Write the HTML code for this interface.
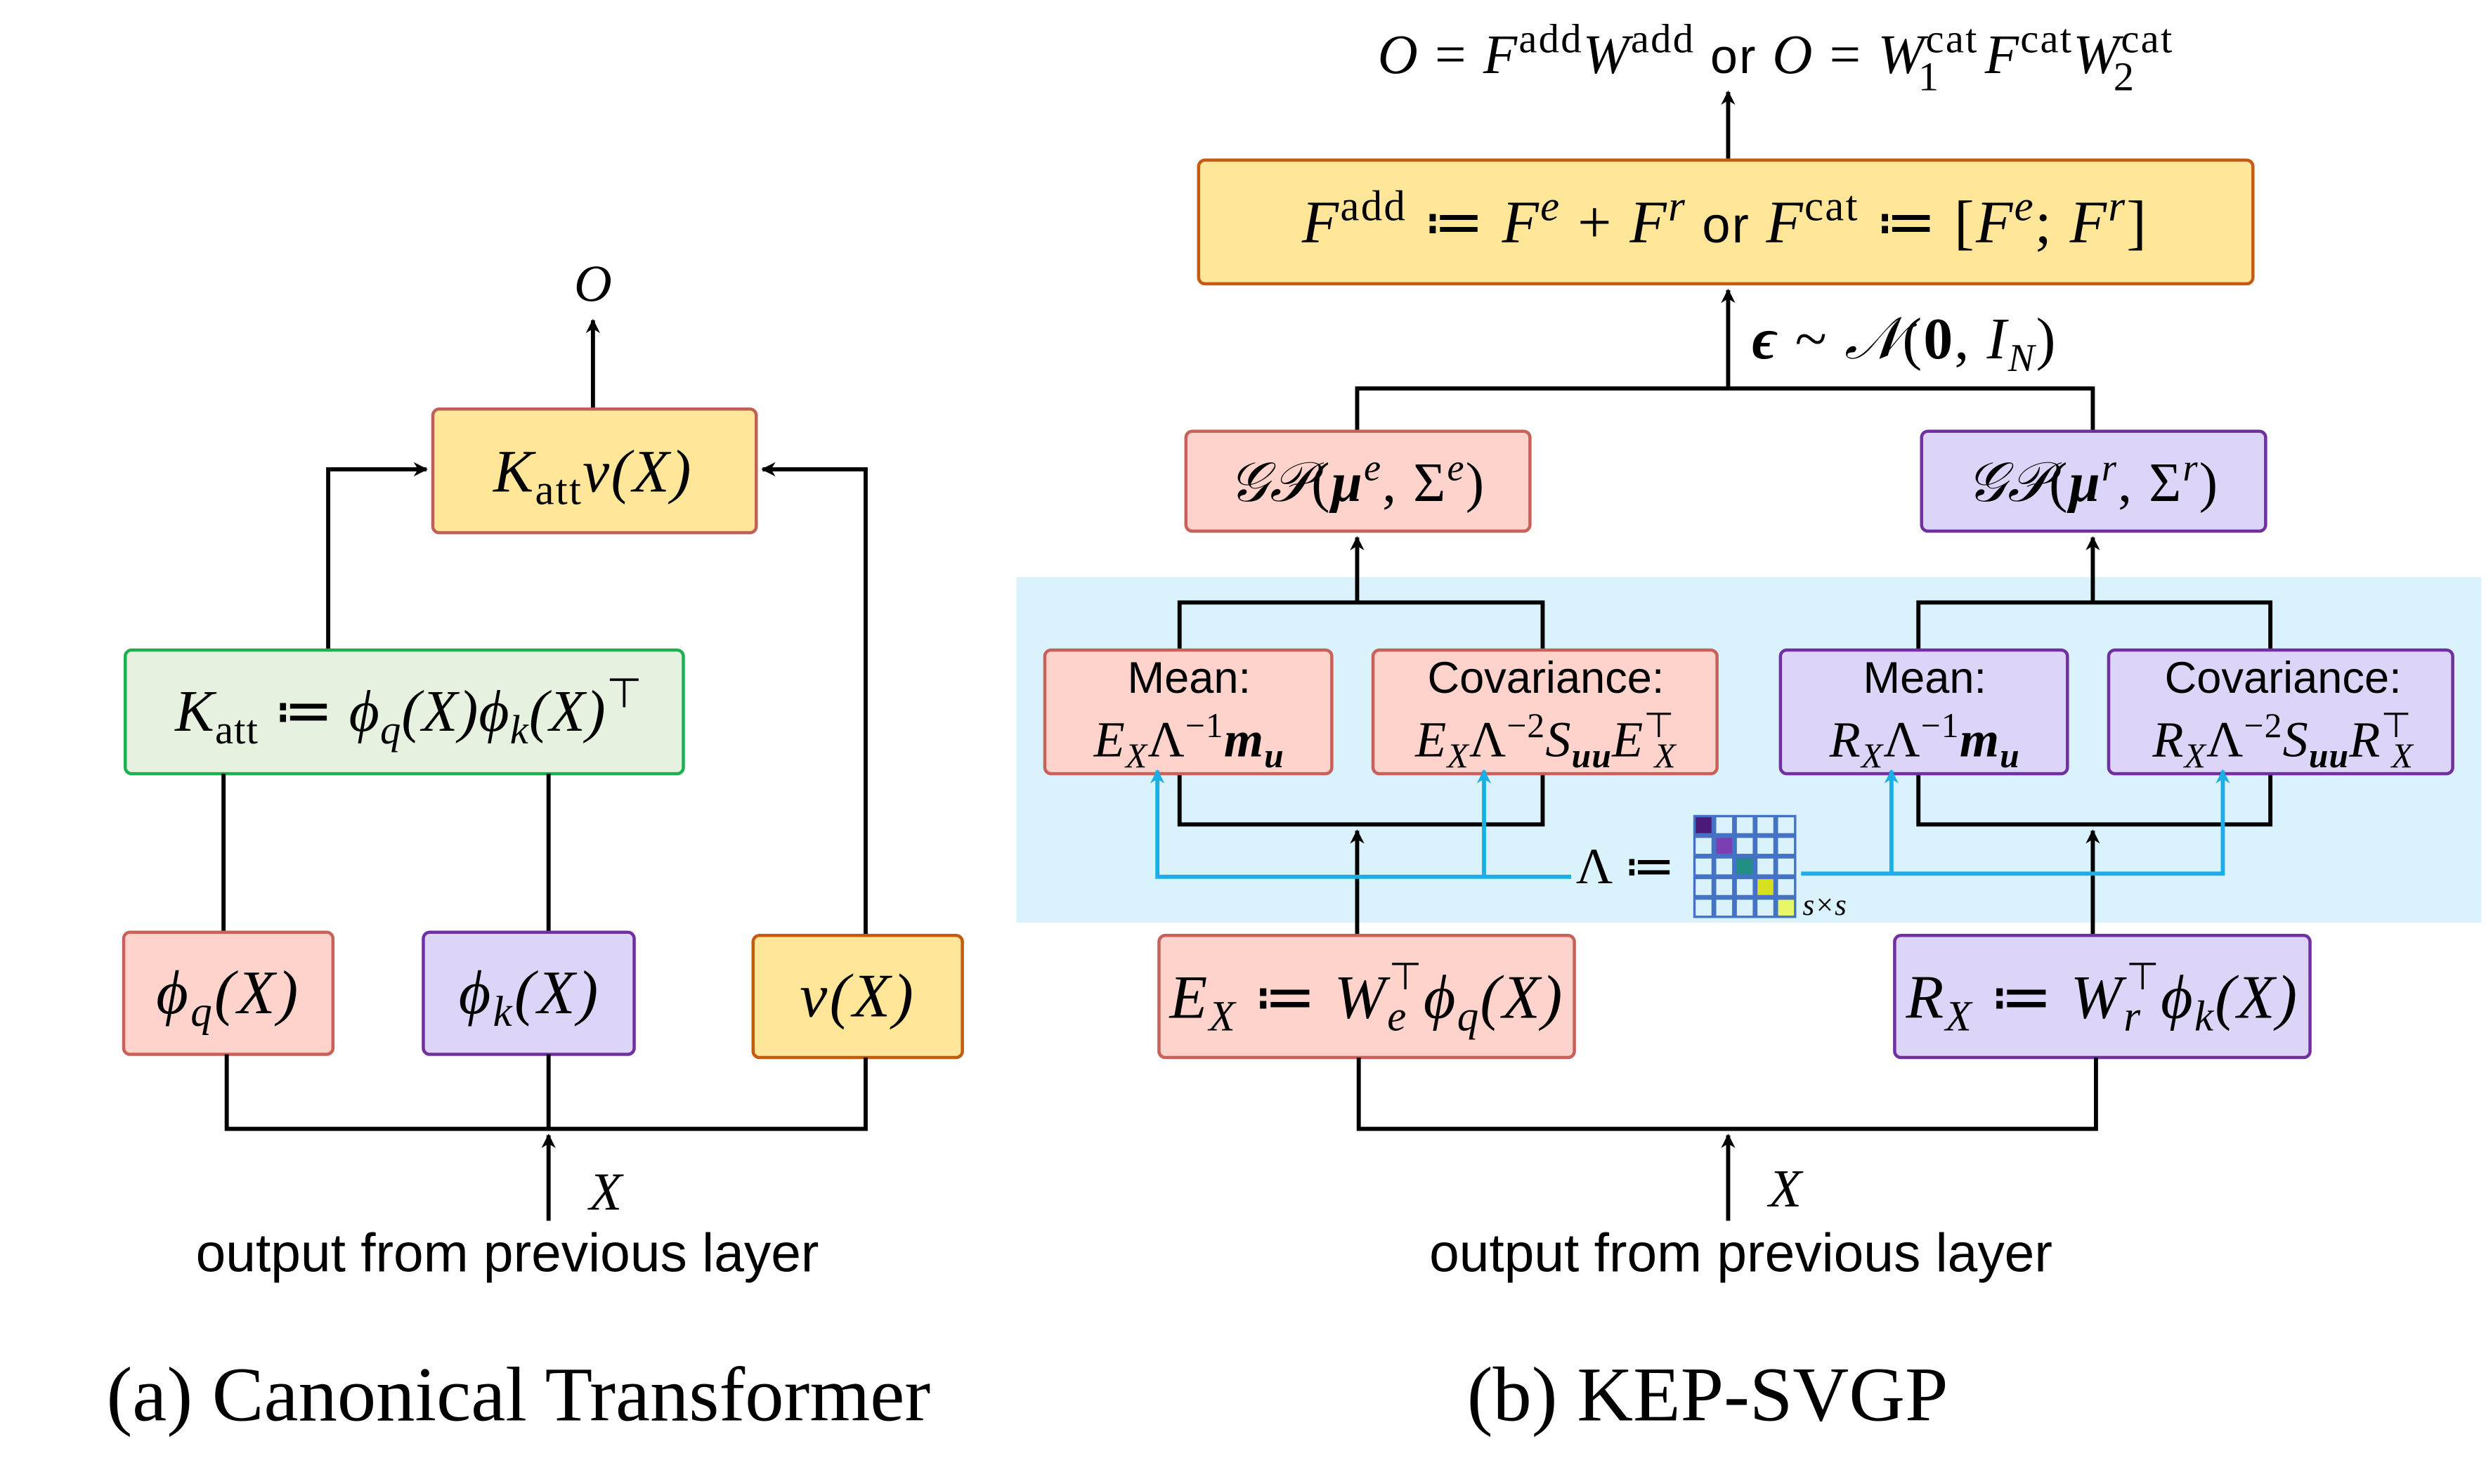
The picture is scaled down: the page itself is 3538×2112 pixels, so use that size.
<!DOCTYPE html>
<html><head><meta charset="utf-8"><style>
html,body{margin:0;padding:0;background:#fff}
svg{display:block}
.m{font-family:"Liberation Serif",serif;font-style:italic;fill:#000}
.r{font-style:normal}
.s{font-family:"Liberation Sans",sans-serif;fill:#000}
.ln{stroke:#000;stroke-width:2.6;fill:none}
.bl{stroke:#1AAFE6;stroke-width:2.6;fill:none}
</style></head><body>
<svg width="3538" height="2112" viewBox="0 0 1568 936" preserveAspectRatio="none" xmlns="http://www.w3.org/2000/svg">
<defs>
<marker id="ah" viewBox="0 0 10 10" refX="9" refY="5" markerWidth="9" markerHeight="9" markerUnits="userSpaceOnUse" orient="auto"><path d="M0,0 L10,5 L0,10 L3,5 z" fill="#000"/></marker>
<marker id="ab" viewBox="0 0 10 10" refX="9" refY="5" markerWidth="9" markerHeight="9" markerUnits="userSpaceOnUse" orient="auto"><path d="M0,0 L10,5 L0,10 L3,5 z" fill="#1AAFE6"/></marker>
</defs>

<g>
<text class="m" x="374" y="190" font-size="33" text-anchor="middle">O</text>
<line class="ln" x1="374" y1="258" x2="374" y2="202" marker-end="url(#ah)"/>
<rect x="273" y="258" width="204" height="78" rx="4" fill="#FFE699" stroke="#C0605A" stroke-width="2"/>
<text class="m" x="374" y="310" font-size="38" letter-spacing="1" text-anchor="middle">K<tspan class="r" font-size="27" dy="8">att</tspan><tspan dy="-8">v(X)</tspan></text>
<polyline class="ln" points="207,410 207,296 269,296" marker-end="url(#ah)"/>
<polyline class="ln" points="546,590 546,296 481,296" marker-end="url(#ah)"/>
<rect x="79" y="410" width="352" height="78" rx="4" fill="#E6F1DF" stroke="#1DB04F" stroke-width="2"/>
<text class="m" x="258" y="461" font-size="37" letter-spacing="0.5" text-anchor="middle">K<tspan class="r" font-size="26" dy="8">att</tspan><tspan class="r" dy="-8"> ≔ </tspan>ϕ<tspan font-size="26" dy="8">q</tspan><tspan dy="-8">(X)ϕ</tspan><tspan font-size="26" dy="8">k</tspan><tspan dy="-8">(X)</tspan><tspan class="r" font-size="26" dy="-15">⊤</tspan></text>
<line class="ln" x1="141" y1="488" x2="141" y2="588"/>
<line class="ln" x1="346" y1="488" x2="346" y2="588"/>
<rect x="78" y="588" width="132" height="77" rx="4" fill="#FDD3CC" stroke="#C9605A" stroke-width="2"/>
<text class="m" x="144" y="639" font-size="39" letter-spacing="1.5" text-anchor="middle">ϕ<tspan font-size="27" dy="8">q</tspan><tspan dy="-8">(X)</tspan></text>
<rect x="267" y="588" width="133" height="77" rx="4" fill="#DCD5F8" stroke="#7030A0" stroke-width="2"/>
<text class="m" x="334" y="639" font-size="39" letter-spacing="1.5" text-anchor="middle">ϕ<tspan font-size="27" dy="8">k</tspan><tspan dy="-8">(X)</tspan></text>
<rect x="475" y="590" width="132" height="77" rx="4" fill="#FFE699" stroke="#C55A11" stroke-width="2"/>
<text class="m" x="541" y="641" font-size="39" letter-spacing="1.5" text-anchor="middle">v(X)</text>
<polyline class="ln" points="143,665 143,712 546,712 546,667"/>
<line class="ln" x1="346" y1="665" x2="346" y2="712"/>
<line class="ln" x1="346" y1="770" x2="346" y2="716" marker-end="url(#ah)"/>
<text class="m" x="382" y="763" font-size="34" text-anchor="middle">X</text>
<text class="s" x="320" y="802" font-size="34" text-anchor="middle">output from previous layer</text>
<text font-family="Liberation Serif,serif" x="327" y="896" font-size="49" text-anchor="middle">(a) Canonical Transformer</text>
</g>

<g>
<rect x="641" y="364" width="924" height="218" fill="#DAF2FC"/>
<text class="m" x="1120" y="46" font-size="35" letter-spacing="1" text-anchor="middle">O<tspan class="r"> = </tspan>F<tspan class="r" font-size="26" dy="-13">add</tspan><tspan dy="13">W</tspan><tspan class="r" font-size="26" dy="-13">add</tspan><tspan class="r" font-family="Liberation Sans,sans-serif" font-size="31" dy="13">  or  </tspan>O<tspan class="r"> = </tspan>W<tspan class="r" font-size="26" dy="-13">cat</tspan><tspan class="r" font-size="26" dx="-38" dy="24">1</tspan><tspan dx="28" dy="-11">F</tspan><tspan class="r" font-size="26" dy="-13">cat</tspan><tspan dy="13">W</tspan><tspan class="r" font-size="26" dy="-13">cat</tspan><tspan class="r" font-size="26" dx="-38" dy="24">2</tspan><tspan dx="24" dy="-11"> </tspan></text>
<line class="ln" x1="1090" y1="100" x2="1090" y2="58" marker-end="url(#ah)"/>
<rect x="756" y="101" width="665" height="78" rx="4" fill="#FFE699" stroke="#C55A11" stroke-width="2"/>
<text class="m" x="1088" y="153" font-size="38" letter-spacing="1" text-anchor="middle">F<tspan class="r" font-size="27" dy="-14">add</tspan><tspan class="r" dy="14"> ≔ </tspan>F<tspan font-size="27" dy="-14">e</tspan><tspan class="r" dy="14"> + </tspan>F<tspan font-size="27" dy="-14">r</tspan><tspan class="r" font-family="Liberation Sans,sans-serif" font-size="32" dy="14">   or   </tspan>F<tspan class="r" font-size="27" dy="-14">cat</tspan><tspan class="r" dy="14"> ≔ [</tspan>F<tspan font-size="27" dy="-14">e</tspan><tspan class="r" dy="14">; </tspan>F<tspan font-size="27" dy="-14">r</tspan><tspan class="r" dy="14">]</tspan></text>
<line class="ln" x1="1090" y1="245" x2="1090" y2="183" marker-end="url(#ah)"/>
<text class="m" x="1105" y="226" font-size="37" letter-spacing="1"><tspan font-weight="bold">ϵ</tspan><tspan class="r"> ~ </tspan>𝒩<tspan class="r">(</tspan><tspan class="r" font-weight="bold">0</tspan><tspan class="r">, </tspan>I<tspan font-size="25" dy="8">N</tspan><tspan class="r" dy="-8">)</tspan></text>
<polyline class="ln" points="856,272 856,245 1320,245 1320,272"/>
<rect x="748" y="272" width="217" height="63" rx="4" fill="#FDD3CC" stroke="#C9605A" stroke-width="2"/>
<text class="m" x="856" y="316" font-size="35" letter-spacing="1" text-anchor="middle">𝒢𝒫<tspan class="r">(</tspan><tspan font-weight="bold">μ</tspan><tspan font-size="24" dy="-13">e</tspan><tspan class="r" dy="13">, Σ</tspan><tspan font-size="24" dy="-13">e</tspan><tspan class="r" dy="13">)</tspan></text>
<rect x="1212" y="272" width="217" height="63" rx="4" fill="#DCD5F8" stroke="#7030A0" stroke-width="2"/>
<text class="m" x="1320" y="316" font-size="35" letter-spacing="1" text-anchor="middle">𝒢𝒫<tspan class="r">(</tspan><tspan font-weight="bold">μ</tspan><tspan font-size="24" dy="-13">r</tspan><tspan class="r" dy="13">, Σ</tspan><tspan font-size="24" dy="-13">r</tspan><tspan class="r" dy="13">)</tspan></text>
<line class="ln" x1="856" y1="380" x2="856" y2="339" marker-end="url(#ah)"/>
<line class="ln" x1="1320" y1="380" x2="1320" y2="339" marker-end="url(#ah)"/>
<polyline class="ln" points="744,410 744,380 973,380 973,410"/>
<polyline class="ln" points="744,488 744,520 973,520 973,488"/>
<polyline class="ln" points="1210,410 1210,380 1432,380 1432,410"/>
<polyline class="ln" points="1210,488 1210,520 1432,520 1432,488"/>
<line class="ln" x1="856" y1="590" x2="856" y2="524" marker-end="url(#ah)"/>
<line class="ln" x1="1320" y1="590" x2="1320" y2="524" marker-end="url(#ah)"/>

<rect x="659" y="410" width="181" height="78" rx="4" fill="#FDD3CC" stroke="#C9605A" stroke-width="2"/>
<text class="s" x="750" y="437" font-size="28" text-anchor="middle">Mean:</text>
<text class="m" x="750" y="477" font-size="32" letter-spacing="0.5" text-anchor="middle">E<tspan font-size="22" dy="7">X</tspan><tspan class="r" dy="-7">Λ</tspan><tspan class="r" font-size="22" dy="-12">−1</tspan><tspan font-weight="bold" dy="12">m</tspan><tspan font-weight="bold" font-size="22" dy="7">u</tspan></text>
<rect x="866" y="410" width="217" height="78" rx="4" fill="#FDD3CC" stroke="#C9605A" stroke-width="2"/>
<text class="s" x="975" y="437" font-size="28" text-anchor="middle">Covariance:</text>
<text class="m" x="975" y="477" font-size="32" letter-spacing="0.5" text-anchor="middle">E<tspan font-size="22" dy="7">X</tspan><tspan class="r" dy="-7">Λ</tspan><tspan class="r" font-size="22" dy="-12">−2</tspan><tspan dy="12">S</tspan><tspan font-weight="bold" font-size="22" dy="7">uu</tspan><tspan dy="-7">E</tspan><tspan class="r" font-size="22" dy="-12">⊤</tspan><tspan font-size="22" dx="-13" dy="19">X</tspan></text>
<rect x="1123" y="410" width="181" height="78" rx="4" fill="#DCD5F8" stroke="#7030A0" stroke-width="2"/>
<text class="s" x="1214" y="437" font-size="28" text-anchor="middle">Mean:</text>
<text class="m" x="1214" y="477" font-size="32" letter-spacing="0.5" text-anchor="middle">R<tspan font-size="22" dy="7">X</tspan><tspan class="r" dy="-7">Λ</tspan><tspan class="r" font-size="22" dy="-12">−1</tspan><tspan font-weight="bold" dy="12">m</tspan><tspan font-weight="bold" font-size="22" dy="7">u</tspan></text>
<rect x="1330" y="410" width="217" height="78" rx="4" fill="#DCD5F8" stroke="#7030A0" stroke-width="2"/>
<text class="s" x="1440" y="437" font-size="28" text-anchor="middle">Covariance:</text>
<text class="m" x="1440" y="477" font-size="32" letter-spacing="0.5" text-anchor="middle">R<tspan font-size="22" dy="7">X</tspan><tspan class="r" dy="-7">Λ</tspan><tspan class="r" font-size="22" dy="-12">−2</tspan><tspan dy="12">S</tspan><tspan font-weight="bold" font-size="22" dy="7">uu</tspan><tspan dy="-7">R</tspan><tspan class="r" font-size="22" dy="-12">⊤</tspan><tspan font-size="22" dx="-13" dy="19">X</tspan></text>

<polyline class="bl" points="991,553 730,553 730,486" marker-end="url(#ab)"/>
<line class="bl" x1="936" y1="553" x2="936" y2="486" marker-end="url(#ab)"/>
<polyline class="bl" points="1136,551 1402,551 1402,486" marker-end="url(#ab)"/>
<line class="bl" x1="1193" y1="551" x2="1193" y2="486" marker-end="url(#ab)"/>
<text font-family="Liberation Serif,serif" x="994" y="557" font-size="32">Λ ≔</text>
<g id="mat"></g>
<text class="m" x="1137" y="577" font-size="19">s×s</text>

<rect x="731" y="590" width="262" height="77" rx="4" fill="#FDD3CC" stroke="#C9605A" stroke-width="2"/>
<text class="m" x="862" y="642" font-size="39" letter-spacing="1" text-anchor="middle">E<tspan font-size="27" dy="8">X</tspan><tspan class="r" dy="-8"> ≔ </tspan>W<tspan font-size="27" dy="8">e</tspan><tspan class="r" font-size="24" dx="-12" dy="-26">⊤</tspan><tspan dy="18">ϕ</tspan><tspan font-size="27" dy="8">q</tspan><tspan dy="-8">(X)</tspan></text>
<rect x="1195" y="590" width="262" height="77" rx="4" fill="#DCD5F8" stroke="#7030A0" stroke-width="2"/>
<text class="m" x="1326" y="642" font-size="39" letter-spacing="1" text-anchor="middle">R<tspan font-size="27" dy="8">X</tspan><tspan class="r" dy="-8"> ≔ </tspan>W<tspan font-size="27" dy="8">r</tspan><tspan class="r" font-size="24" dx="-10" dy="-26">⊤</tspan><tspan dy="18">ϕ</tspan><tspan font-size="27" dy="8">k</tspan><tspan dy="-8">(X)</tspan></text>
<polyline class="ln" points="857,667 857,712 1322,712 1322,667"/>
<line class="ln" x1="1090" y1="770" x2="1090" y2="716" marker-end="url(#ah)"/>
<text class="m" x="1126" y="761" font-size="34" text-anchor="middle">X</text>
<text class="s" x="1098" y="802" font-size="34" text-anchor="middle">output from previous layer</text>
<text font-family="Liberation Serif,serif" x="1077" y="896" font-size="49" text-anchor="middle">(b) KEP-SVGP</text>
</g>
</svg>
<script>
const diagColors=["#4A1A78","#7B3FB3","#218F85","#D7E01E","#E6F76A"];
const g=document.getElementById('mat');
const NS="http://www.w3.org/2000/svg";
const x0=1068,y0=514,cs=13;
const bg=document.createElementNS(NS,'rect');


bg.setAttribute('x',x0);bg.setAttribute('y',y0);bg.setAttribute('width',cs*5);bg.setAttribute('height',cs*5);bg.setAttribute('fill','#4472C4');
g.appendChild(bg);
for(let i=0;i<5;i++)for(let j=0;j<5;j++){
 const c=document.createElementNS(NS,'rect');
 
 
 c.setAttribute('x',x0+j*cs+1.5);c.setAttribute('y',y0+i*cs+1.5);
 c.setAttribute('width',cs-3);c.setAttribute('height',cs-3);
 c.setAttribute('fill',i===j?diagColors[i]:'#DAF2FC');
 g.appendChild(c);
}
</script>
</body></html>
